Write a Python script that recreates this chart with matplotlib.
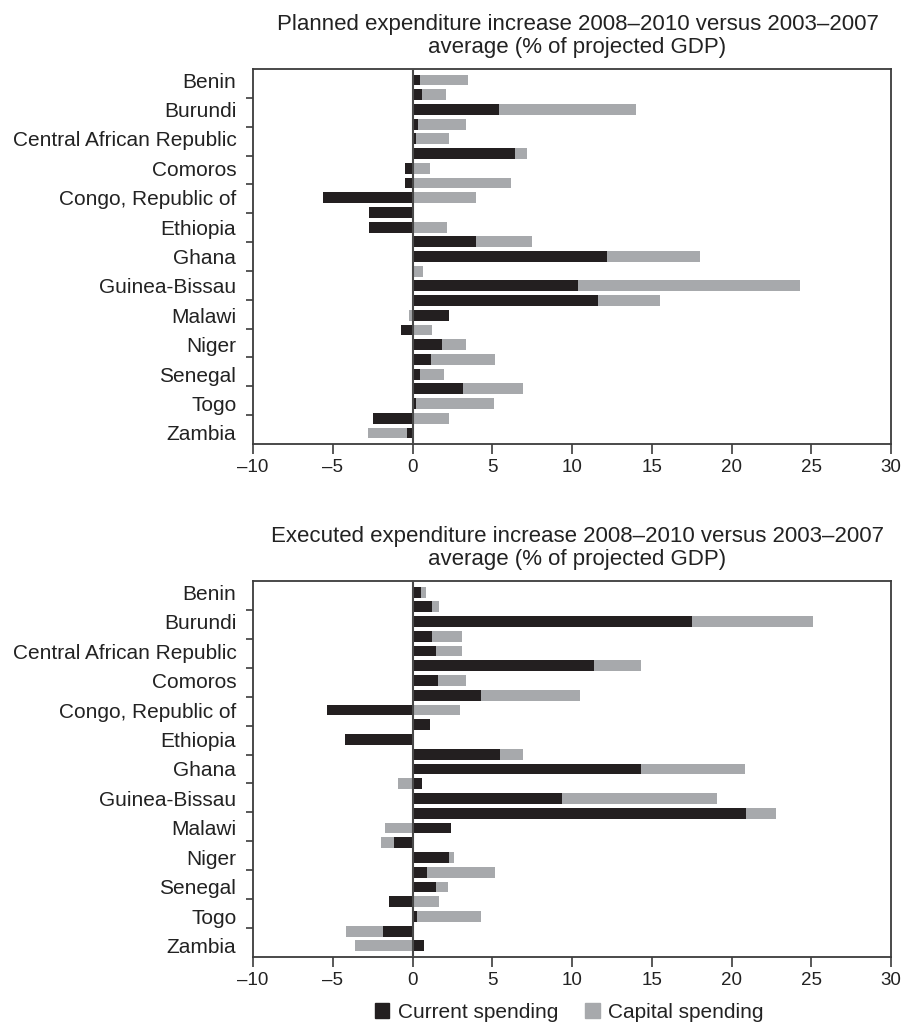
import matplotlib
matplotlib.use("Agg")
import matplotlib.pyplot as plt
import numpy as np
from matplotlib.patches import Patch

plt.rcParams['font.family'] = ['Liberation Sans', 'DejaVu Sans']

# 25 country rows; only every other one is labelled in the reference
labels = ["Benin", "", "Burundi", "", "Central African Republic", "",
          "Comoros", "", "Congo, Republic of", "", "Ethiopia", "",
          "Ghana", "", "Guinea-Bissau", "", "Malawi", "", "Niger", "",
          "Senegal", "", "Togo", "", "Zambia"]

planned_current = [0.5, 0.6, 5.4, 0.35, 0.2, 6.4, -0.45, -0.45, -5.6, -2.7,
                   -2.7, 4.0, 12.2, 0.0, 10.4, 11.6, 2.3, -0.7, 1.85, 1.15,
                   0.5, 3.15, 0.2, -2.45, -0.35]
planned_capital = [3.0, 1.5, 8.6, 3.0, 2.1, 0.8, 1.1, 6.2, 4.0, 0.0,
                   2.15, 3.5, 5.8, 0.65, 13.9, 3.9, -0.2, 1.2, 1.5, 4.05,
                   1.5, 3.75, 4.9, 2.3, -2.45]

executed_current = [0.55, 1.2, 17.5, 1.2, 1.5, 11.35, 1.6, 4.3, -5.35, 1.1,
                    -4.25, 5.5, 14.3, 0.6, 9.35, 20.9, 2.4, -1.15, 2.3, 0.9,
                    1.5, -1.45, 0.3, -1.85, 0.75]
executed_capital = [0.3, 0.45, 7.6, 1.9, 1.6, 2.95, 1.75, 6.2, 3.0, 0.0,
                    0.1, 1.4, 6.55, -0.9, 9.75, 1.9, -1.7, -0.8, 0.3, 4.3,
                    0.7, 1.65, 4.0, -2.3, -3.6]

titles = ["Planned expenditure increase 2008\u20132010 versus 2003\u20132007\naverage (% of projected GDP)",
          "Executed expenditure increase 2008\u20132010 versus 2003\u20132007\naverage (% of projected GDP)"]
xticks = [-10, -5, 0, 5, 10, 15, 20, 25, 30]
xticklabels = ["\u201310", "\u20135", "0", "5", "10", "15", "20", "25", "30"]

DARK = "#231f20"
GREY = "#a7a9ac"
SPINE = "#3c3c3c"

fig = plt.figure(figsize=(9.08, 10.34), dpi=100)
W, H = 908, 1034
boxes = [(253, 69, 891, 444), (253, 581, 891, 957)]
data = [(planned_current, planned_capital), (executed_current, executed_capital)]

for (x0, y0, x1, y1), (cur, cap), title in zip(boxes, data, titles):
    ax = fig.add_axes([x0 / W, 1 - y1 / H, (x1 - x0) / W, (y1 - y0) / H])
    cur = np.array(cur)
    cap = np.array(cap)
    y = np.arange(len(labels))
    left_cap = np.where(np.sign(cap) == np.sign(cur), cur, 0.0)
    ax.barh(y, cur, height=0.74, color=DARK, zorder=2)
    ax.barh(y, cap, left=left_cap, height=0.74, color=GREY, zorder=2)
    ax.axvline(0, color="#4a4a4a", lw=1.5, zorder=3)
    ax.set_xlim(-10, 30)
    ax.set_ylim(24.75, -0.75)
    ax.set_xticks(xticks)
    ax.set_xticklabels(xticklabels, fontsize=13.5)
    lab_pos = [i for i, l in enumerate(labels) if l]
    ax.set_yticks(lab_pos)
    ax.set_yticklabels([labels[i] for i in lab_pos], fontsize=15, color="#222222")
    ax.tick_params(axis='y', which='major', length=0, pad=12)
    # 12 separator ticks dividing the axis into 13 equal parts
    lo, hi = -0.75, 24.75
    ax.set_yticks([lo + (hi - lo) * k / 13 for k in range(1, 13)], minor=True)
    ax.tick_params(axis='y', which='minor', length=5, width=1.2, color=SPINE, direction='out')
    ax.tick_params(axis='x', length=7, width=1.2, color=SPINE, direction='out', pad=4,
                   labelcolor="#222222")
    for s in ax.spines.values():
        s.set_color(SPINE)
        s.set_linewidth(1.3)
    fig.text((x0 + x1) / 2 / W + 0.006, 1 - (y0 - 11) / H, title, ha='center', va='bottom',
             fontsize=16, linespacing=1.1, color="#222222")

handles = [Patch(color=DARK, label="Current spending"), Patch(color=GREY, label="Capital spending")]
fig.legend(handles=handles, loc='center', bbox_to_anchor=(569 / W, 1 - 1012 / H), ncol=2,
           frameon=False, fontsize=15, handlelength=0.7, handleheight=0.7,
           handletextpad=0.4, columnspacing=1.3, labelcolor="#222222")

fig.savefig("out.png", dpi=100)
